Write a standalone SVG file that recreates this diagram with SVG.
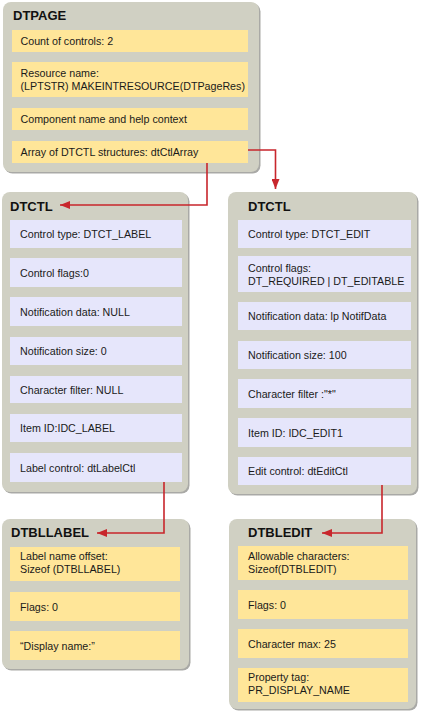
<svg xmlns="http://www.w3.org/2000/svg" width="421" height="712" viewBox="0 0 421 712">
<defs>
<style>
.box{fill:#D0D0C3;}
.sh{fill:#A9A9A6;}
.y{fill:#FFE699;}
.v{fill:#E6E6FB;}
.t{font-family:"Liberation Sans",Arial,sans-serif;font-size:13px;font-weight:bold;fill:#111;}
.s{font-family:"Liberation Sans",Arial,sans-serif;font-size:10.7px;fill:#1a1a1a;}
.c{fill:none;stroke:#C8262C;stroke-width:1.6;}
</style>
<marker id="ah" markerUnits="userSpaceOnUse" markerWidth="11" markerHeight="8" refX="10" refY="4" orient="auto">
<path d="M0,0 L10,4 L0,8 z" fill="#C8262C"/>
</marker>
</defs>
<rect width="421" height="712" fill="#fff"/>

<g id="dtpage">
<rect class="sh" x="4.5" y="3.5" width="256" height="170" rx="8"/>
<rect class="box" x="3" y="2" width="256" height="170" rx="8"/>
<text class="t" x="13" y="20">DTPAGE</text>
<rect class="y" x="12" y="30" width="236" height="22"/>
<text class="s" x="20.5" y="45">Count of controls: 2</text>
<rect class="y" x="12" y="62" width="236" height="35"/>
<text class="s" x="20.5" y="76.5">Resource name:</text>
<text class="s" x="20.5" y="90">(LPTSTR) MAKEINTRESOURCE(DTPageRes)</text>
<rect class="y" x="12" y="108" width="236" height="22"/>
<text class="s" x="20.5" y="123">Component name and help context</text>
<rect class="y" x="12" y="141" width="236" height="22"/>
<text class="s" x="20.5" y="156">Array of DTCTL structures: dtCtlArray</text>
</g>

<g id="dtctl-label">
<rect class="sh" x="3.5" y="193.5" width="186" height="300" rx="8"/>
<rect class="box" x="2" y="192" width="186" height="300" rx="8"/>
<text class="t" x="10" y="211">DTCTL</text>
<rect class="v" x="10" y="220" width="172" height="28"/>
<text class="s" x="20" y="238">Control type: DTCT_LABEL</text>
<rect class="v" x="10" y="258" width="172" height="29"/>
<text class="s" x="20" y="276.5">Control flags:0</text>
<rect class="v" x="10" y="297" width="172" height="29"/>
<text class="s" x="20" y="315.5">Notification data: NULL</text>
<rect class="v" x="10" y="337" width="172" height="28"/>
<text class="s" x="20" y="355">Notification size: 0</text>
<rect class="v" x="10" y="376" width="172" height="27"/>
<text class="s" x="20" y="393.5">Character filter: NULL</text>
<rect class="v" x="10" y="414" width="172" height="28"/>
<text class="s" x="20" y="432">Item ID:IDC_LABEL</text>
<rect class="v" x="10" y="453" width="172" height="29"/>
<text class="s" x="20" y="471.5">Label control: dtLabelCtl</text>
</g>

<g id="dtctl-edit">
<rect class="sh" x="229.5" y="193.5" width="189" height="302" rx="8"/>
<rect class="box" x="228" y="192" width="189" height="302" rx="8"/>
<text class="t" x="248" y="211">DTCTL</text>
<rect class="v" x="238" y="220" width="173" height="28"/>
<text class="s" x="248" y="238">Control type: DTCT_EDIT</text>
<rect class="v" x="238" y="256" width="173" height="36"/>
<text class="s" x="248" y="272">Control flags:</text>
<text class="s" x="248" y="285">DT_REQUIRED | DT_EDITABLE</text>
<rect class="v" x="238" y="302" width="173" height="28"/>
<text class="s" x="248" y="320">Notification data: lp NotifData</text>
<rect class="v" x="238" y="341" width="173" height="28"/>
<text class="s" x="248" y="359">Notification size: 100</text>
<rect class="v" x="238" y="379" width="173" height="29"/>
<text class="s" x="248" y="397.5">Character filter :"*"</text>
<rect class="v" x="238" y="418" width="173" height="29"/>
<text class="s" x="248" y="436.5">Item ID: IDC_EDIT1</text>
<rect class="v" x="238" y="457" width="173" height="28"/>
<text class="s" x="248" y="475">Edit control: dtEditCtl</text>
</g>

<g id="dtbllabel">
<rect class="sh" x="3.5" y="520.5" width="187" height="150" rx="8"/>
<rect class="box" x="2" y="519" width="187" height="150" rx="8"/>
<text class="t" x="11" y="537">DTBLLABEL</text>
<rect class="y" x="10" y="547" width="170" height="34"/>
<text class="s" x="20" y="560">Label name offset:</text>
<text class="s" x="20" y="572.5">Sizeof (DTBLLABEL)</text>
<rect class="y" x="10" y="592" width="170" height="29"/>
<text class="s" x="20" y="610.5">Flags: 0</text>
<rect class="y" x="10" y="631" width="170" height="29"/>
<text class="s" x="20" y="649.5">“Display name:”</text>
</g>

<g id="dtbledit">
<rect class="sh" x="230.5" y="520.5" width="187" height="190" rx="8"/>
<rect class="box" x="229" y="519" width="187" height="190" rx="8"/>
<text class="t" x="248" y="537">DTBLEDIT</text>
<rect class="y" x="238" y="546" width="170" height="34"/>
<text class="s" x="248" y="560">Allowable characters:</text>
<text class="s" x="248" y="573">Sizeof(DTBLEDIT)</text>
<rect class="y" x="238" y="590" width="170" height="29"/>
<text class="s" x="248" y="608.5">Flags: 0</text>
<rect class="y" x="238" y="629" width="170" height="29"/>
<text class="s" x="248" y="647.5">Character max: 25</text>
<rect class="y" x="238" y="668" width="170" height="34"/>
<text class="s" x="248" y="680.5">Property tag:</text>
<text class="s" x="248" y="694">PR_DISPLAY_NAME</text>
</g>

<g id="connectors">
<path class="c" d="M248,150 H275.5 V189" marker-end="url(#ah)"/>
<path class="c" d="M207,163 V205 H60" marker-end="url(#ah)"/>
<path class="c" d="M164,482 V533 H97" marker-end="url(#ah)"/>
<path class="c" d="M382,485 V533 H322" marker-end="url(#ah)"/>
</g>
</svg>
